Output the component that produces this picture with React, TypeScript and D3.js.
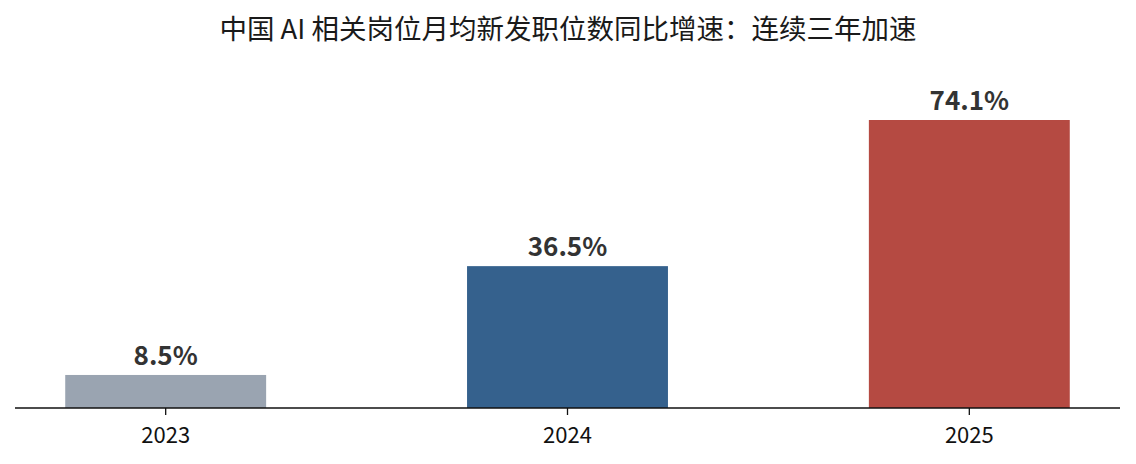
import React from "react";
import * as d3 from "d3";

const years = ["2023", "2024", "2025"];
const growth = [8.5, 36.5, 74.1];
const colors = ["#9aa4b1", "#35618d", "#b54a42"];
const title = "中国 AI 相关岗位月均新发职位数同比增速：连续三年加速";

const width = 1136;
const height = 464;
const font = "'Noto Sans CJK SC', 'Noto Sans', sans-serif";

const App = () => {
  const x = d3
    .scaleBand()
    .domain(years)
    .range([15, 1120])
    .paddingInner(0.5)
    .paddingOuter(0.125);
  const y = d3
    .scaleLinear()
    .domain([0, d3.max(growth)!])
    .range([408, 120]);

  return (
    <svg
      width={width}
      height={height}
      style={{ position: "absolute", left: 0, top: 0, background: "#fff" }}
      fontFamily={font}
    >
      <text
        x={width / 2}
        y={39}
        textAnchor="middle"
        fontSize={27.5}
        fill="#1a1a1a"
      >
        {title}
      </text>
      {years.map((yr, i) => (
        <g key={yr}>
          <rect
            x={x(yr)}
            y={y(growth[i])}
            width={x.bandwidth()}
            height={y(0) - y(growth[i])}
            fill={colors[i]}
          />
          <text
            x={x(yr)! + x.bandwidth() / 2}
            y={y(growth[i]) - 10}
            textAnchor="middle"
            fontSize={26}
            fontWeight="bold"
            fill="#333"
          >
            {growth[i].toFixed(1)}%
          </text>
          <line
            x1={x(yr)! + x.bandwidth() / 2}
            x2={x(yr)! + x.bandwidth() / 2}
            y1={408}
            y2={415}
            stroke="#111"
            strokeWidth={1.3}
          />
          <text
            x={x(yr)! + x.bandwidth() / 2}
            y={443}
            textAnchor="middle"
            fontSize={22}
            fill="#111"
          >
            {yr}
          </text>
        </g>
      ))}
      <line x1={15} x2={1120} y1={408} y2={408} stroke="#111" strokeWidth={1.5} />
    </svg>
  );
};

export default App;
